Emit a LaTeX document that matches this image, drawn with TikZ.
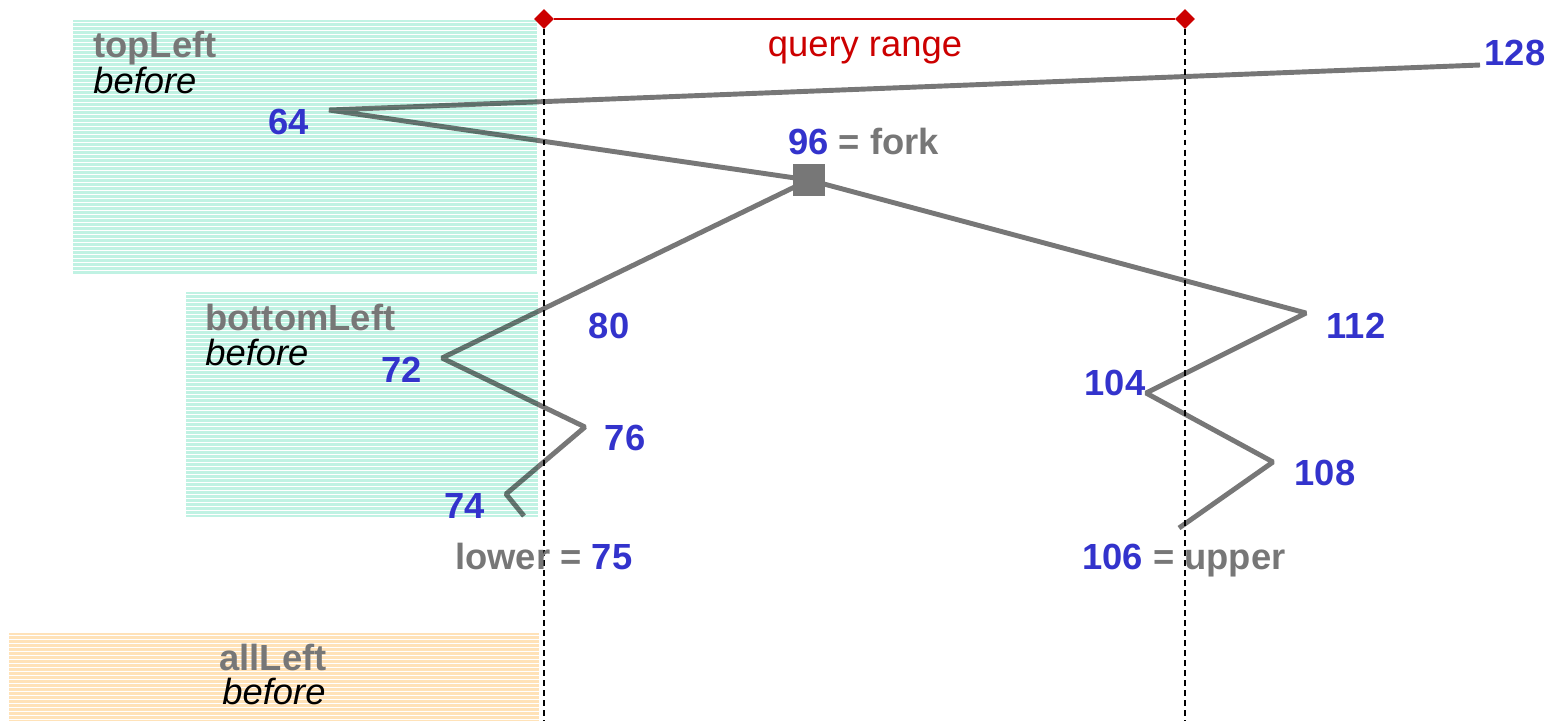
\documentclass[tikz,border=0pt]{standalone}
\usepackage{fontspec}
\setmainfont{Liberation Sans}
\usetikzlibrary{shapes.geometric}

\definecolor{numblue}{HTML}{3333CC}
\definecolor{wordgray}{HTML}{777777}
\definecolor{qred}{HTML}{CC0000}
\definecolor{mint}{HTML}{C0F2E3}
\definecolor{peach}{HTML}{FFE2B8}

\tikzset{every picture/.style = {x=0.02cm, y=-0.02cm}}
\tikzset{num/.style = {numblue, font=\fontsize{20.7}{24}\selectfont\bfseries, inner sep=0}}
\tikzset{word/.style = {wordgray, font=\fontsize{20.7}{24}\selectfont\bfseries, inner sep=0, anchor=base west}}
\tikzset{note/.style = {black, font=\fontsize{20.7}{24}\selectfont\itshape, inner sep=0, anchor=base west}}
\tikzset{hatch/.style = {white, line width=0.5pt}}
\tikzset{chain/.style = {wordgray, line width=2.8pt, line join=bevel}}
\tikzset{forkbox/.style = {fill=wordgray, shape=rectangle, inner sep=0, minimum size=0.64cm}}
\tikzset{tip/.style = {diamond, fill=qred, inner sep=0, minimum size=0.4cm}}
\tikzset{guide/.style = {black, line width=0.8pt, dash pattern=on 3.4pt off 2.3pt}}

\begin{document}
\begin{tikzpicture}
  \useasboundingbox (0, 0) rectangle (1548, 721);

  % shaded "before" regions
  \fill[mint] (73, 20) rectangle (537, 275);
  \foreach \y in {22, 26, ..., 274} \draw[hatch] (73, \y) -- (537, \y);
  \fill[mint] (186, 292) rectangle (538, 517);
  \foreach \y in {294, 298, ..., 516} \draw[hatch] (186, \y) -- (538, \y);
  \fill[peach] (9, 633) rectangle (539, 721);
  \foreach \y in {635, 639, ..., 719} \draw[hatch] (9, \y) -- (539, \y);

  \node[word] (topLeft) at (93, 57) {topLeft};
  \node[note] (topBefore) at (93, 93) {before};
  \node[word] (bottomLeft) at (205, 330) {bottomLeft};
  \node[note] (bottomBefore) at (205, 365) {before};
  \node[word, anchor=base] (allLeft) at (273, 670) {allLeft};
  \node[note, anchor=base] (allBefore) at (274, 704) {before};

  % tree path
  \coordinate (p128) at (1480, 65);
  \coordinate (p64) at (329, 110);
  \coordinate (p72) at (442, 358);
  \coordinate (p76) at (585, 427);
  \coordinate (p74) at (506, 494);
  \coordinate (lower) at (524, 516);
  \coordinate (p112) at (1306, 313);
  \coordinate (p104) at (1146, 393);
  \coordinate (p108) at (1273, 462);
  \coordinate (upper) at (1179, 528);
  \node[forkbox] (fork) at (809, 180) {};

  \begin{scope}[blend mode=multiply]
    \draw[chain] (p128) -- (p64) -- (fork.center) -- (p72) -- (p76) -- (p74) -- (lower);
    \draw[chain] (fork.center) -- (p112) -- (p104) -- (p108) -- (upper);
  \end{scope}
  \node[forkbox] at (fork) {};

  % query range
  \node[tip] (rangeLo) at (544, 19) {};
  \node[tip] (rangeHi) at (1185, 19) {};
  \coordinate (loFoot) at (544, 721);
  \coordinate (hiFoot) at (1185, 721);
  \draw[qred, line width=1.4pt] (rangeLo) -- (rangeHi);
  \draw[guide] (rangeLo.south) -- (loFoot);
  \draw[guide] (rangeHi.south) -- (hiFoot);
  \node[qred, font=\fontsize{20.7}{24}\selectfont, inner sep=0, anchor=base] (rangeTxt) at (865, 56) {query range};

  % keys
  \node[num] (n128) at (1515, 53) {128};
  \node[num] (n64) at (289, 122) {64};
  \node[num] (n80) at (609, 326) {80};
  \node[num] (n72) at (402, 370) {72};
  \node[num] (n76) at (625, 438) {76};
  \node[num] (n74) at (465, 506) {74};
  \node[num] (n112) at (1356, 326) {112};
  \node[num] (n104) at (1115, 383) {104};
  \node[num] (n108) at (1325, 473) {108};
  \node[word] (forkTxt) at (788, 154) {\textcolor{numblue}{96} = fork};
  \node[word] (lowerTxt) at (455, 569) {lower = \textcolor{numblue}{75}};
  \node[word] (upperTxt) at (1082, 569) {\textcolor{numblue}{106} = upper};
\end{tikzpicture}
\end{document}
